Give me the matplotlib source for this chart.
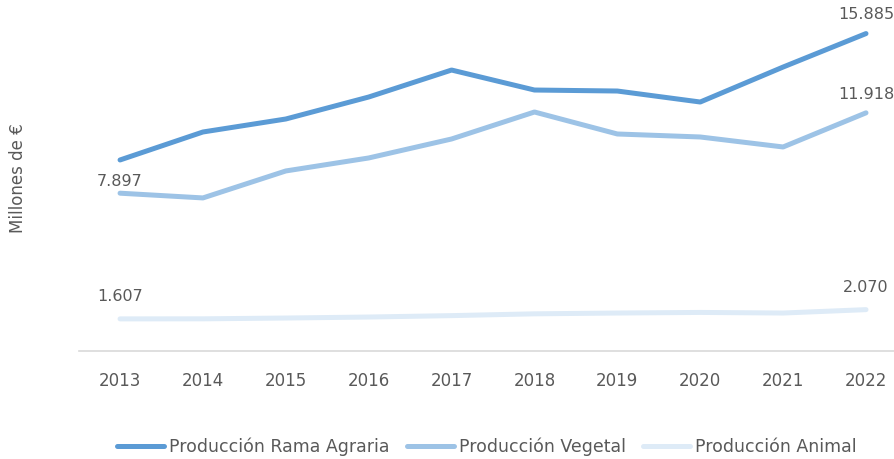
import matplotlib
matplotlib.use('Agg')
import matplotlib.pyplot as plt

# data (thousands of M€)
years = [2013, 2014, 2015, 2016, 2017, 2018, 2019, 2020, 2021, 2022]
rama_agraria = [9.56, 10.96, 11.61, 12.71, 14.06, 13.06, 13.01, 12.46, 14.21, 15.885]
vegetal = [7.897, 7.66, 9.01, 9.66, 10.61, 11.96, 10.86, 10.71, 10.21, 11.918]
animal = [1.607, 1.61, 1.65, 1.70, 1.77, 1.86, 1.90, 1.93, 1.90, 2.070]

series_names = ["Producción Rama Agraria", "Producción Vegetal", "Producción Animal"]
colors = ["#5B9BD5", "#9DC3E6", "#DEEBF7"]

text_color = "#595959"
plt.rcParams['font.family'] = ['DejaVu Sans']

fig = plt.figure(figsize=(8.95, 4.59), dpi=100)
ax = fig.add_axes([0.0883, 0.2353, 0.9117, 0.7401])

for vals, name, c in zip([rama_agraria, vegetal, animal], series_names, colors):
    ax.plot(years, vals, color=c, linewidth=3.6, solid_capstyle='round',
            solid_joinstyle='round', label=name)

# data labels at first / last points
labels = [
    (years[-1], rama_agraria[-1], 19),
    (years[0], vegetal[0], 12),
    (years[-1], vegetal[-1], 18),
    (years[0], animal[0], 22),
    (years[-1], animal[-1], 22),
]
for x, y, off in labels:
    ax.annotate(f"{y:.3f}", (x, y), xytext=(0, off * 0.72), textcoords='offset points',
                ha='center', va='center', fontsize=11.5, color=text_color,
                annotation_clip=False)

ax.set_xlim(2012.505, 2022.35)
ax.set_ylim(0, 17)
ax.set_xticks(years)
ax.set_xticklabels([str(y) for y in years])
ax.set_yticks([])
ax.tick_params(axis='x', length=0, pad=15, labelsize=12, labelcolor=text_color)

for s in ['top', 'right', 'left']:
    ax.spines[s].set_visible(False)
ax.spines['bottom'].set_color('#d9d9d9')
ax.spines['bottom'].set_linewidth(1.2)

fig.text(0.02, 0.612, "Millones de €", rotation=90, ha='center', va='center',
         fontsize=12, color=text_color)

leg = ax.legend(loc='center', bbox_to_anchor=(0.5, -0.283), ncol=3, frameon=False,
                fontsize=12.5, handlelength=2.7, handletextpad=0.3, columnspacing=1.0)
for t in leg.get_texts():
    t.set_color(text_color)

fig.savefig('out.png', dpi=100)
